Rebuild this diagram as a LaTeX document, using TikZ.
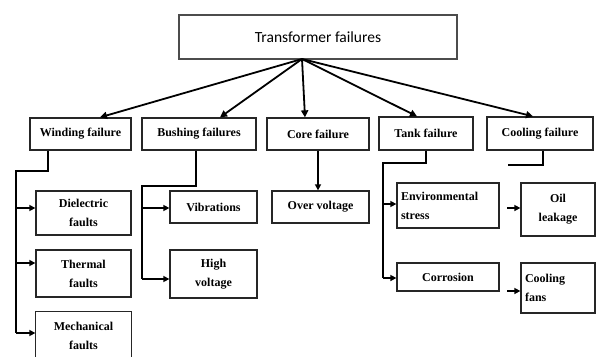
\documentclass[tikz,border=0pt]{standalone}
\usepackage{fontspec}
\setmainfont{Liberation Serif}
\newfontfamily\topfont{Carlito}
\usetikzlibrary{arrows.meta,calc}
\begin{document}
\begin{tikzpicture}[x=1pt,y=-1pt,
  box/.style={draw=black!85,line width=1.3pt,inner sep=2pt,align=center,font=\bfseries\fontsize{12}{19}\selectfont},
  conn/.style={line width=1.5pt,black},
  arr/.style={conn,-{Triangle[length=6pt,width=6pt]}},
  bigarr/.style={line width=1.8pt,black,-{Triangle[length=7pt,width=7pt]}}]
\useasboundingbox (0,0) rectangle (596,356);
\fill[white] (0,0) rectangle (596,356);
\clip (0,0) rectangle (596,356);

% top
\node[draw=black!70,line width=1.3pt,minimum width=278pt,minimum height=44pt,font=\topfont\fontsize{15.5}{18}\selectfont] (top) at (318,37) {Transformer failures};
\coordinate (hub) at (302,59);

% level 2
\node[box,minimum width=101pt,minimum height=32pt] (winding) at (80.5,134) {Winding failure};
\node[box,minimum width=114pt,minimum height=32pt] (bushing) at (199,134) {Bushing failures};
\node[box,minimum width=102pt,minimum height=32pt] (core) at (318,134) {Core failure};
\node[box,minimum width=94pt,minimum height=33pt] (tank) at (426,133.5) {Tank failure};
\node[box,minimum width=106pt,minimum height=33pt] (cooling) at (540,133.5) {Cooling failure};

% level 3
\node[box,minimum width=95pt,minimum height=44pt] (diel) at (83.5,213) {Dielectric\\faults};
\node[box,minimum width=95pt,minimum height=47pt] (therm) at (83.5,273.5) {Thermal\\faults};
\node[box,draw=none,minimum width=95pt,minimum height=48pt] (mech) at (83.5,336) {Mechanical\\faults};
\draw[draw=black!85,line width=1.3pt] ($(mech.south west)+(0,20)$) -- (mech.north west) -- (mech.north east) -- ($(mech.south east)+(0,20)$);
\node[box,minimum width=87pt,minimum height=32pt] (vib) at (213.5,207) {Vibrations};
\node[box,minimum width=87pt,minimum height=48pt] (hv) at (213.5,274) {High\\voltage};
\node[box,minimum width=97pt,minimum height=32pt] (ov) at (320.5,207) {Over voltage};
\node[box,minimum width=102pt,minimum height=45pt,align=left,text width=94pt] (env) at (448,205.5) {Environmental\\stress};
\node[box,minimum width=102pt,minimum height=28pt] (corr) at (448,277) {Corrosion};
\node[box,minimum width=74pt,minimum height=53pt] (oil) at (558,209.5) {Oil\\leakage};
\node[box,minimum width=74pt,minimum height=50pt,align=left,text width=66pt] (fans) at (558,288) {Cooling\\fans};

% hub arrows
\draw[bigarr] (hub) -- ($(winding.north)+(19.5,0)$);
\draw[bigarr] (hub) -- ($(bushing.north)+(21,0)$);
\draw[bigarr] (hub) -- ($(core.north)+(-13,0)$);
\draw[bigarr] (hub) -- ($(tank.north)+(-9,0)$);
\draw[bigarr] (hub) -- ($(cooling.north)+(-7,0)$);

% winding tree
\coordinate (wt) at (16,171);
\draw[conn] ($(winding.south)+(-32.5,0)$) |- (wt) -- (16,333);
\draw[arr] (16,208) -- (diel.west |- 0,208);
\draw[arr] (16,263) -- (therm.west |- 0,263);
\draw[arr] (16,333) -- (mech.west |- 0,333);

% bushing tree
\coordinate (bt) at (142,186);
\draw[conn] ($(bushing.south)+(-3,0)$) |- (bt) -- (142,279);
\draw[arr] (142,208) -- (vib.west |- 0,208);
\draw[arr] (142,279) -- (hv.west |- 0,279);

% core
\draw[arr] (core.south) -- (ov.north -| core.south);

% tank tree
\coordinate (tt) at (383,163);
\draw[conn] (tank.south) |- (tt) -- (383,278);
\draw[arr] (383,204) -- (env.west |- 0,204);
\draw[arr] (383,278) -- (corr.west |- 0,278);

% cooling stub
\coordinate (cs) at (508,165);
\draw[conn] ($(cooling.south)+(3,0)$) |- (cs);

% side arrows
\coordinate (o1) at (507,208);
\coordinate (o2) at (507,291);
\draw[arr] (o1) -- (oil.west |- o1);
\draw[arr] (o2) -- (fans.west |- o2);
\end{tikzpicture}
\end{document}
